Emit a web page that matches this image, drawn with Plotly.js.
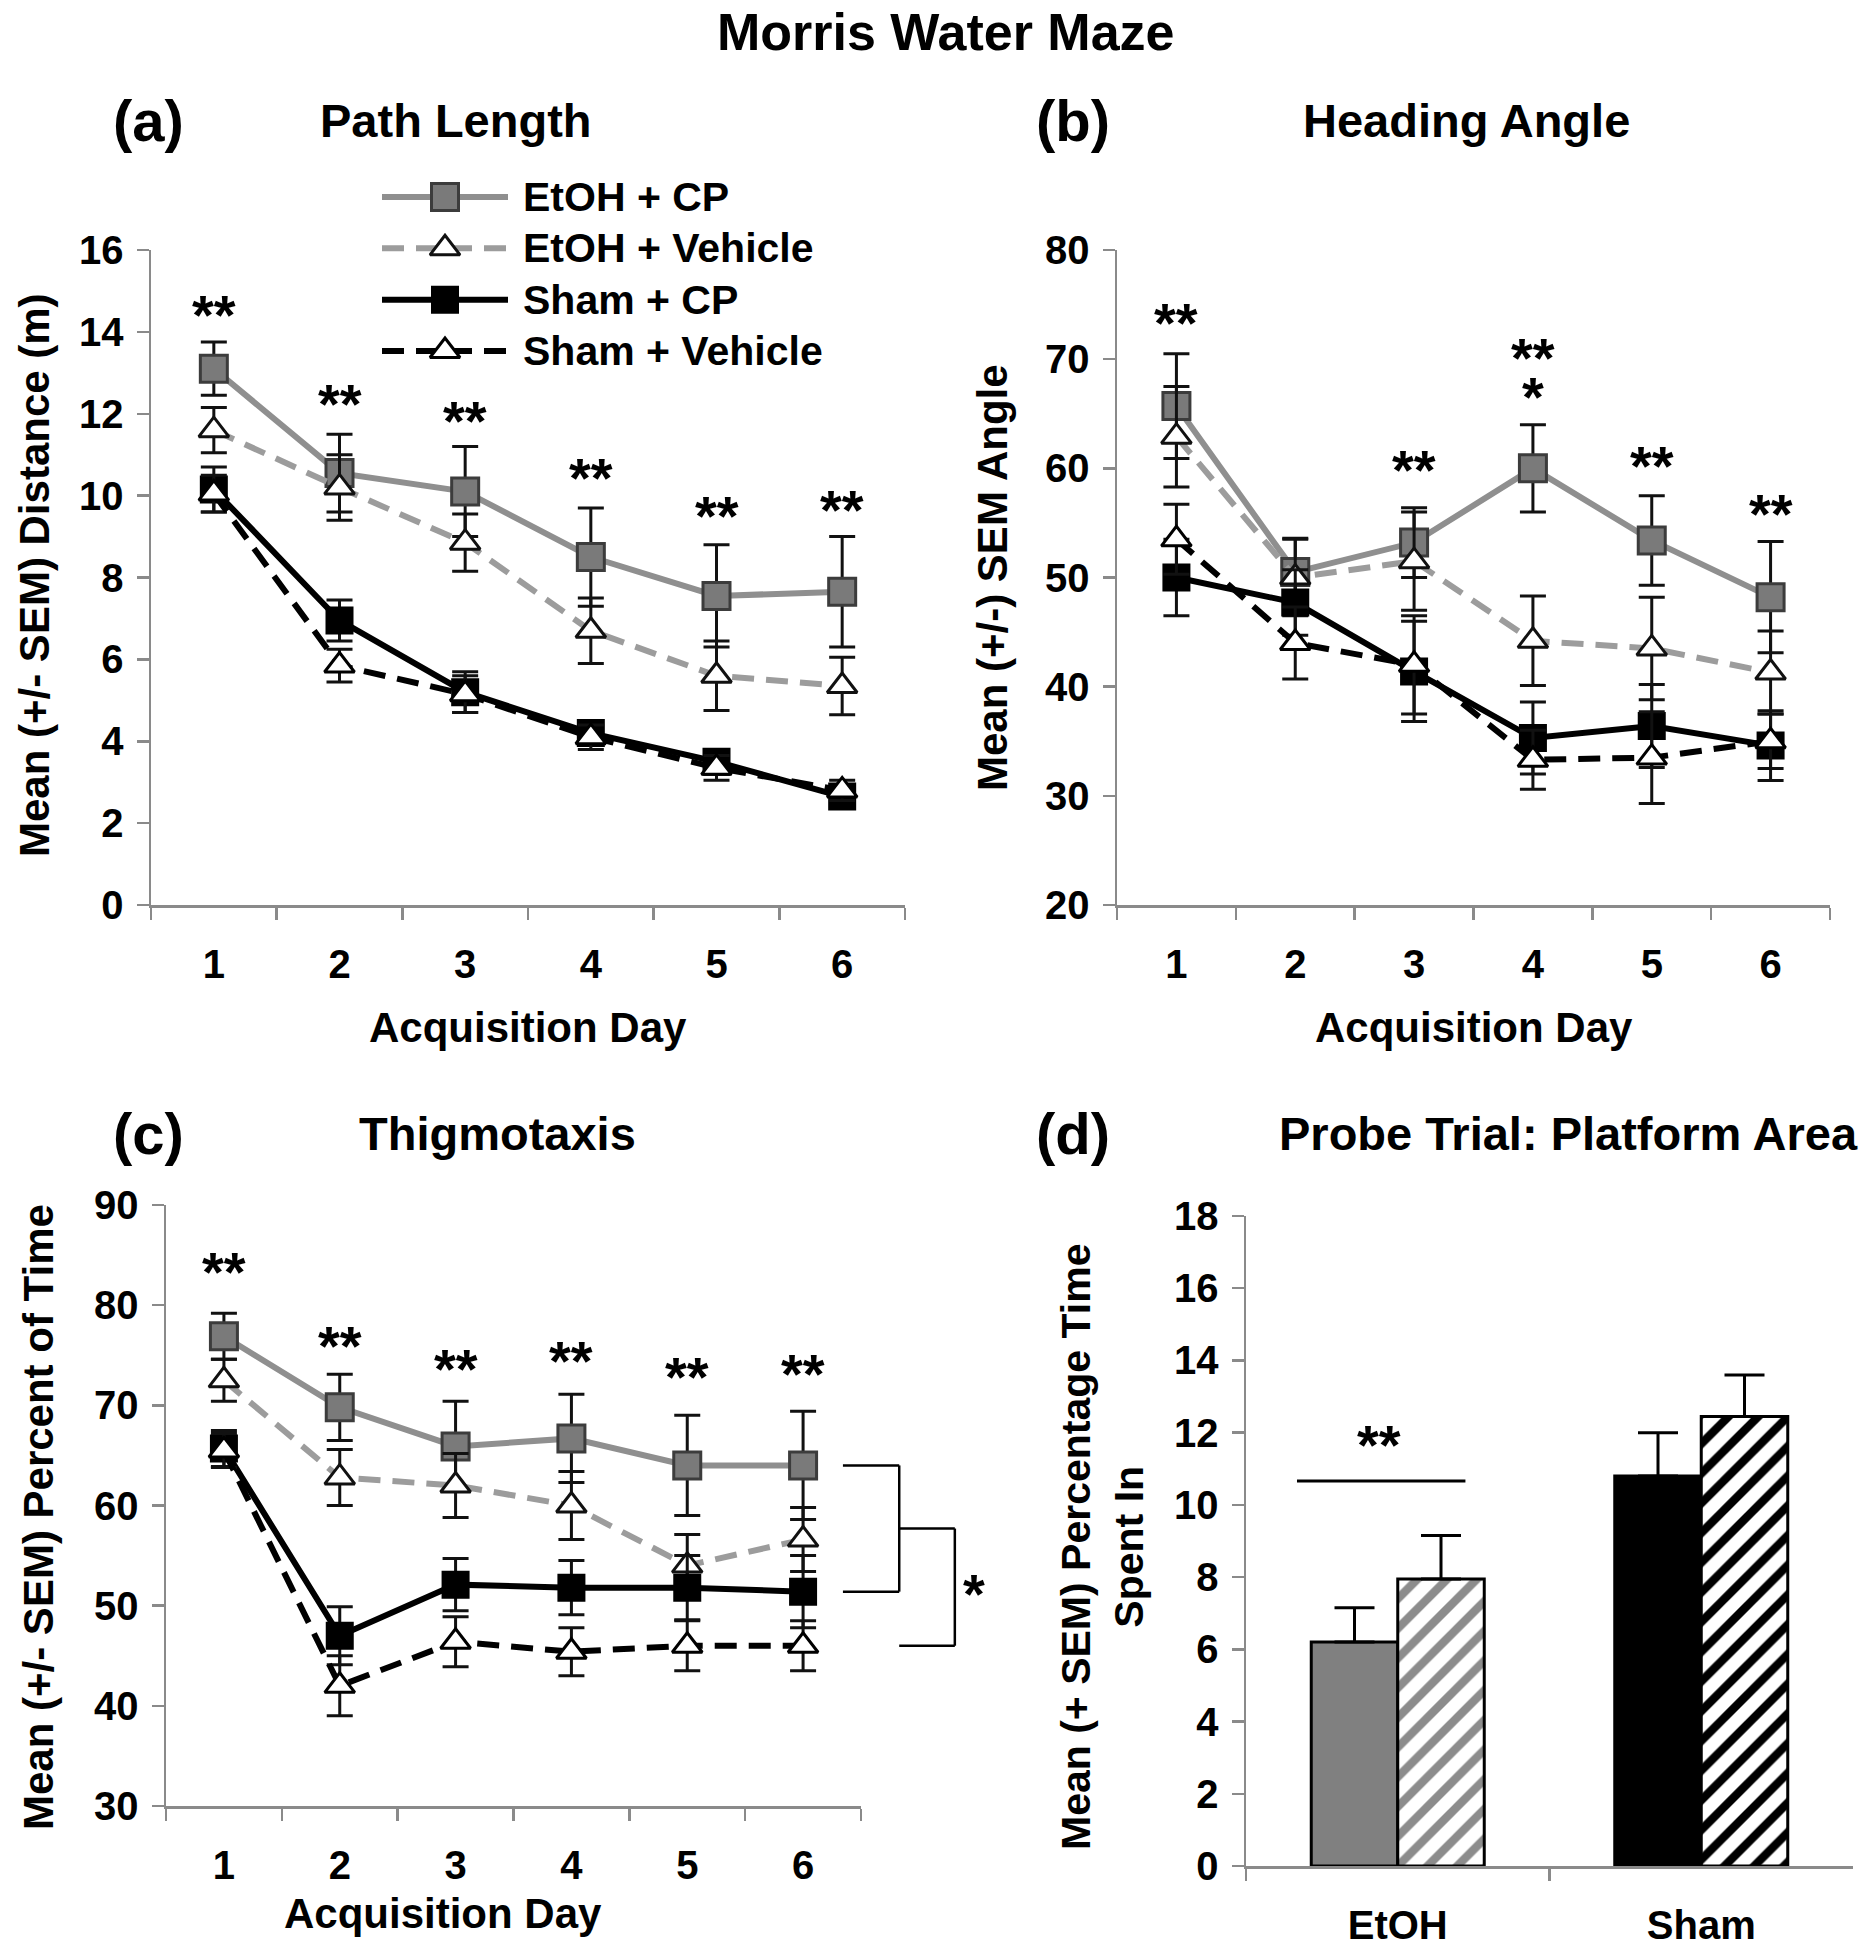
<!DOCTYPE html>
<html>
<head>
<meta charset="utf-8">
<script src="https://cdn.plot.ly/plotly-3.0.1.min.js"></script>
<style>
  html, body { margin: 0; padding: 0; background: #ffffff; }
  #chart { width: 1871px; height: 1950px; }
</style>
</head>
<body>
<div id="chart"></div>
<script>
// ---------------- DATA ----------------
const days = [1, 2, 3, 4, 5, 6];
const seriesNames = ['EtOH + CP', 'EtOH + Vehicle', 'Sham + CP', 'Sham + Vehicle'];

// (a) Path Length – distance (m)
const pathEtohCp      = [13.1, 10.55, 10.1, 8.5, 7.55, 7.65];
const pathEtohCpErr   = [0.65, 0.95, 1.1, 1.2, 1.25, 1.35];
const pathEtohVeh     = [11.6, 10.2, 8.85, 6.7, 5.6, 5.35];
const pathEtohVehErr  = [0.55, 0.8, 0.7, 0.8, 0.85, 0.7];
const pathShamCp      = [10.15, 6.95, 5.2, 4.2, 3.5, 2.65];
const pathShamCpErr   = [0.55, 0.5, 0.5, 0.3, 0.3, 0.25];
const pathShamVeh     = [10.05, 5.85, 5.15, 4.1, 3.35, 2.8];
const pathShamVehErr  = [0.45, 0.4, 0.45, 0.3, 0.3, 0.25];
const pathStarY       = [14.57, 12.4, 11.97, 10.6, 9.66, 9.8];

// (b) Heading Angle
const angEtohCp       = [65.7, 50.5, 53.2, 60.0, 53.4, 48.2];
const angEtohCpErr    = [4.8, 3.1, 3.2, 4.0, 4.1, 5.1];
const angEtohVeh      = [62.9, 50.0, 51.5, 44.2, 43.5, 41.3];
const angEtohVehErr   = [4.6, 3.5, 4.5, 4.1, 4.7, 3.8];
const angShamCp       = [50.0, 47.7, 41.4, 35.3, 36.4, 34.6];
const angShamCpErr    = [3.5, 3.0, 4.6, 3.3, 3.8, 3.2];
const angShamVeh      = [53.5, 44.0, 42.0, 33.3, 33.5, 35.0];
const angShamVehErr   = [3.2, 3.3, 4.5, 2.7, 4.2, 2.5];
const angStarDays     = [1, 3, 5, 6];
const angStarY        = [73.9, 60.4, 60.8, 56.4];
const angPairStarDay  = 4;            // day 4 carries "**" above "*"
const angPairStarY    = [70.6, 67.0];

// (c) Thigmotaxis – percent of time
const thigEtohCp      = [76.9, 69.8, 65.9, 66.7, 64.0, 64.0];
const thigEtohCpErr   = [2.3, 3.3, 4.5, 4.4, 5.0, 5.4];
const thigEtohVeh     = [72.5, 62.8, 62.0, 60.0, 54.0, 56.6];
const thigEtohVehErr  = [2.1, 2.8, 3.2, 3.4, 3.1, 3.2];
const thigShamCp      = [65.7, 47.0, 52.1, 51.8, 51.8, 51.4];
const thigShamCpErr   = [1.8, 2.9, 2.6, 2.7, 3.2, 3.6];
const thigShamVeh     = [65.5, 42.0, 46.4, 45.4, 46.0, 46.0];
const thigShamVehErr  = [1.7, 3.0, 2.5, 2.4, 2.5, 2.5];
const thigStarY       = [84.0, 76.6, 74.3, 75.1, 73.5, 73.8];

// (d) Probe trial – percentage time in platform area
const probeGroups     = ['EtOH', 'Sham'];
const probeCp         = [6.2, 10.8];
const probeCpErr      = [0.95, 1.2];
const probeVeh        = [7.95, 12.45];
const probeVehErr     = [1.2, 1.15];
const probeSigY       = 10.66;   // significance line level
const probeStarY      = 11.85;

// ---------------- LAYOUT HELPERS ----------------
const W = 1871, H = 1950;
const FONT = 'Liberation Sans, Arial, Helvetica, sans-serif';
const px = x => x / W;           // pixel -> paper x
const py = y => 1 - y / H;       // pixel -> paper y
const AXC = '#8a8a8a';
const dayIdx = d => days.indexOf(d);   // category position of a day

const styles = [
  { line: { color: '#8f8f8f', width: 6, dash: 'solid' },
    marker: { symbol: 'square', size: 27, color: '#7a7a7a', line: { color: '#3c3c3c', width: 3 } } },
  { line: { color: '#9c9c9c', width: 6, dash: '22px,12px' },
    marker: { symbol: 'triangle-up', size: 26, color: '#ffffff', line: { color: '#111111', width: 3 } } },
  { line: { color: '#000000', width: 6, dash: 'solid' },
    marker: { symbol: 'square', size: 26, color: '#000000', line: { color: '#000000', width: 2 } } },
  { line: { color: '#000000', width: 6, dash: '22px,12px' },
    marker: { symbol: 'triangle-up', size: 26, color: '#ffffff', line: { color: '#000000', width: 3 } } }
];

function lineTraces(xa, ya, vals, errs) {
  return vals.map((v, i) => ({
    type: 'scatter', mode: 'lines+markers', name: seriesNames[i],
    x: days, y: v, xaxis: xa, yaxis: ya, showlegend: false,
    line: styles[i].line, marker: styles[i].marker, cliponaxis: false,
    error_y: { type: 'data', array: errs[i], visible: true, color: '#111111', thickness: 3, width: 13 }
  }));
}

const traces = [];
traces.push(...lineTraces('x', 'y',
  [pathEtohCp, pathEtohVeh, pathShamCp, pathShamVeh],
  [pathEtohCpErr, pathEtohVehErr, pathShamCpErr, pathShamVehErr]));
traces.push(...lineTraces('x2', 'y2',
  [angEtohCp, angEtohVeh, angShamCp, angShamVeh],
  [angEtohCpErr, angEtohVehErr, angShamCpErr, angShamVehErr]));
traces.push(...lineTraces('x3', 'y3',
  [thigEtohCp, thigEtohVeh, thigShamCp, thigShamVeh],
  [thigEtohCpErr, thigEtohVehErr, thigShamCpErr, thigShamVehErr]));

// (d) bars
traces.push({
  type: 'bar', name: 'CP', x: probeGroups, y: probeCp, xaxis: 'x4', yaxis: 'y4', showlegend: false,
  marker: { color: ['#808080', '#000000'], line: { color: '#000000', width: 3 } },
  error_y: { type: 'data', array: probeCpErr, arrayminus: [0, 0], symmetric: false, visible: true,
             color: '#000000', thickness: 3, width: 20 }
});
traces.push({
  type: 'bar', name: 'Vehicle', x: probeGroups, y: probeVeh, xaxis: 'x4', yaxis: 'y4', showlegend: false,
  marker: { color: '#ffffff', line: { color: '#000000', width: 3 },
            pattern: { shape: '/', fgcolor: ['#8c8c8c', '#000000'], bgcolor: '#ffffff', size: 21, solidity: 0.4 } },
  error_y: { type: 'data', array: probeVehErr, arrayminus: [0, 0], symmetric: false, visible: true,
             color: '#000000', thickness: 3, width: 20 }
});

// legend samples drawn on a hidden axis (rows 3..0 top to bottom)
const legendRows = [3, 2, 1, 0];
const legendX = [0, 1, 2];
seriesNames.forEach((nm, i) => {
  traces.push({
    type: 'scatter', mode: 'lines+markers', x: legendX, y: legendX.map(() => legendRows[i]),
    xaxis: 'x5', yaxis: 'y5', showlegend: false, hoverinfo: 'skip', cliponaxis: false,
    line: styles[i].line,
    marker: Object.assign({}, styles[i].marker, { opacity: [0, 1, 0] })
  });
});

// ---------------- AXES ----------------
function xCat(domain, anchor, range, extra) {
  return Object.assign({
    domain: domain, anchor: anchor, type: 'category', tickson: 'boundaries', range: range,
    showline: true, linecolor: AXC, linewidth: 2.5,
    ticks: 'outside', ticklen: 12, tickwidth: 2.5, tickcolor: AXC,
    showgrid: false, zeroline: false, fixedrange: true,
    tickfont: { family: FONT, size: 40, color: '#000', weight: 'bold' },
    ticklabelstandoff: 22
  }, extra || {});
}
function yLin(domain, anchor, range, dtick) {
  return {
    domain: domain, anchor: anchor, range: range, dtick: dtick, tick0: range[0],
    showline: true, linecolor: AXC, linewidth: 2.5,
    ticks: 'outside', ticklen: 12, tickwidth: 2.5, tickcolor: AXC,
    showgrid: false, zeroline: false, fixedrange: true,
    tickfont: { family: FONT, size: 40, color: '#000', weight: 'bold' },
    ticklabelstandoff: 5
  };
}

const dA = { x: [px(151), px(905)], y: [py(905), py(250)] };
const dB = { x: [px(1117), px(1830)], y: [py(905), py(250)] };
const dC = { x: [px(166), px(861)], y: [py(1806), py(1205)] };
const dD = { x: [px(1246), px(1853)], y: [py(1866), py(1216)] };

// ---------------- ANNOTATIONS ----------------
const ann = [];
function txt(text, x, y, size, opts) {
  ann.push(Object.assign({
    text: text, x: x, y: y, xref: 'paper', yref: 'paper', showarrow: false,
    xanchor: 'center', yanchor: 'middle',
    font: { family: FONT, size: size, color: '#000', weight: 'bold' }
  }, opts || {}));
}
// titles
txt('Morris Water Maze', px(946), py(32), 52);
txt('(a)', px(148), py(120), 58);
txt('Path Length', px(456), py(120), 47);
txt('(b)', px(1073), py(120), 58);
txt('Heading Angle', px(1466), py(120), 47);
txt('(c)', px(148), py(1133), 58);
txt('Thigmotaxis', px(498), py(1133), 47);
txt('(d)', px(1073), py(1133), 58);
txt('Probe Trial: Platform Area', px(1568), py(1133), 47);
// axis titles
txt('Acquisition Day', px(528), py(1027), 42);
txt('Acquisition Day', px(1474), py(1027), 42);
txt('Acquisition Day', px(443), py(1913), 42);
txt('Mean (+/- SEM) Distance (m)', px(34), py(575), 42, { textangle: -90 });
txt('Mean (+/-) SEM Angle', px(992), py(577), 42, { textangle: -90 });
txt('Mean (+/- SEM) Percent of Time', px(38), py(1517), 42, { textangle: -90 });
txt('Mean (+ SEM) Percentage Time<br>Spent In', px(1102), py(1547), 41, { textangle: -90 });

// legend labels
seriesNames.forEach((nm, i) => {
  ann.push({ text: nm, x: px(521), y: legendRows[i], xref: 'paper', yref: 'y5', showarrow: false,
    xanchor: 'left', yanchor: 'middle', font: { family: FONT, size: 41, color: '#000', weight: 'bold' } });
});

// significance stars
const STAR = { family: FONT, size: 56, color: '#000', weight: 'bold' };
function star(text, xref, yref, x, y) {
  ann.push({ text: text, x: x, y: y, xref: xref, yref: yref, showarrow: false,
    xanchor: 'center', yanchor: 'middle', yshift: -6, font: STAR });
}
days.forEach((d, i) => star('**', 'x', 'y', dayIdx(d), pathStarY[i]));
angStarDays.forEach((d, i) => star('**', 'x2', 'y2', dayIdx(d), angStarY[i]));
// stacked "**" over "*" as one text (tight line spacing from a small base font)
ann.push({
  text: '<span style="font-size:56px">**</span><br><span style="font-size:56px">*</span>',
  x: dayIdx(angPairStarDay), y: (angPairStarY[0] + angPairStarY[1]) / 2, xref: 'x2', yref: 'y2',
  showarrow: false, xanchor: 'center', yanchor: 'middle', yshift: -5,
  font: { family: FONT, size: 30, color: '#000', weight: 'bold' }
});
days.forEach((d, i) => star('**', 'x3', 'y3', dayIdx(d), thigStarY[i]));
star('**', 'x4', 'y4', -0.063, probeStarY);

// bracket in (c) comparing day-6 groups
const bTop = thigEtohCp[5], bBot1 = thigShamCp[5], bMid = (bTop + bBot1) / 2, bBot2 = thigShamVeh[5];
const shapes = [];
function seg(x0, y0, x1, y1) {
  shapes.push({ type: 'line', xref: 'x3 domain', yref: 'y3', x0: x0, y0: y0, x1: x1, y1: y1,
    line: { color: '#000', width: 2.5 } });
}
seg(0.974, bTop, 1.055, bTop);
seg(1.055, bTop, 1.055, bBot1);
seg(0.974, bBot1, 1.055, bBot1);
seg(1.055, bMid, 1.135, bMid);
seg(1.135, bMid, 1.135, bBot2);
seg(1.055, bBot2, 1.135, bBot2);
star('*', 'x3 domain', 'y3', 1.162, (bMid + bBot2) / 2);

// significance line in (d)
shapes.push({ type: 'line', xref: 'x4', yref: 'y4', x0: -0.332, x1: 0.223, y0: probeSigY, y1: probeSigY,
  line: { color: '#000', width: 3 } });

const layout = {
  width: W, height: H, margin: { l: 0, r: 0, t: 0, b: 0, pad: 0 },
  paper_bgcolor: '#ffffff', plot_bgcolor: 'rgba(0,0,0,0)',
  font: { family: FONT, size: 40, color: '#000', weight: 'bold' },
  showlegend: false,
  barmode: 'group', bargap: 0.43, bargroupgap: 0,
  xaxis:  xCat(dA.x, 'y',  [-0.5, 5.5]),
  yaxis:  yLin(dA.y, 'x',  [0, 16], 2),
  xaxis2: xCat(dB.x, 'y2', [-0.5, 5.5]),
  yaxis2: yLin(dB.y, 'x2', [20, 80], 10),
  xaxis3: xCat(dC.x, 'y3', [-0.5, 5.5]),
  yaxis3: yLin(dC.y, 'x3', [30, 90], 10),
  xaxis4: xCat(dD.x, 'y4', [-0.5, 1.5]),
  yaxis4: yLin(dD.y, 'x4', [0, 18], 2),
  xaxis5: { domain: [px(382), px(508)], anchor: 'y5', range: [0, 2], visible: false, fixedrange: true },
  yaxis5: { domain: [py(376.7), py(171.3)], anchor: 'x5', range: [-0.5, 3.5], visible: false, fixedrange: true },
  annotations: ann,
  shapes: shapes
};

Plotly.newPlot('chart', traces, layout, { staticPlot: true, displayModeBar: false });
</script>
</body>
</html>
